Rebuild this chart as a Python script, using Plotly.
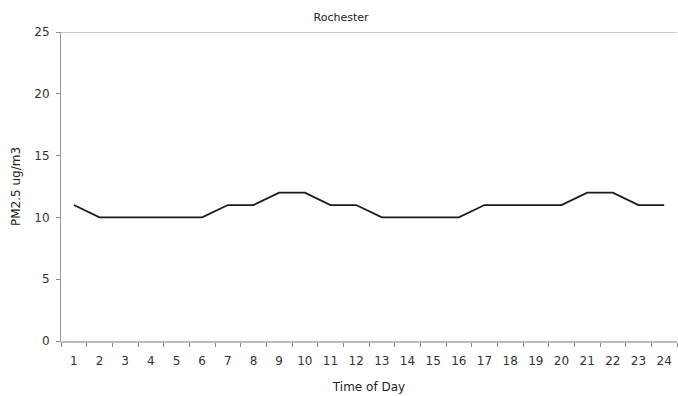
import plotly.graph_objects as go

hours = [str(h) for h in range(1, 25)]
pm25 = [11, 10, 10, 10, 10, 10, 11, 11, 12, 12, 11, 11,
        10, 10, 10, 10, 11, 11, 11, 11, 12, 12, 11, 11]
y_ticks = [0, 5, 10, 15, 20, 25]

fig = go.Figure()
fig.add_trace(go.Scatter(x=hours, y=pm25, mode="lines",
                         line=dict(color="#1a1a1a", width=1.8),
                         showlegend=False, hoverinfo="x+y"))

fig.add_shape(type="line", xref="paper", yref="y", x0=0, x1=1, y0=25, y1=25,
              line=dict(color="#c8c8c8", width=2))

font_family = "DejaVu Sans, Verdana, sans-serif"
fig.update_layout(
    width=678, height=396,
    margin=dict(l=61, r=1, t=32, b=55, autoexpand=False),
    paper_bgcolor="white", plot_bgcolor="white",
    font=dict(family=font_family, size=12, color="#222"),
    title=dict(text="Rochester", x=0.503, xanchor="center", y=0.957, yanchor="middle",
               font=dict(size=11, color="#222")),
    xaxis=dict(type="category", range=[-0.5, 23.5], tickson="boundaries",
               ticks="outside", ticklen=4, automargin=False, ticklabelstandoff=8,
               tickcolor="#888", showline=True, linecolor="#bbb", linewidth=2,
               showgrid=False, zeroline=False,
               title=dict(text="Time of Day", font=dict(size=12), standoff=15),
               tickfont=dict(size=12, color="#333")),
    yaxis=dict(range=[0, 25], tickvals=y_ticks, ticks="outside", ticklen=4,
               automargin=False, ticklabelstandoff=4,
               tickcolor="#888", showline=True, linecolor="#999", linewidth=1,
               showgrid=False, zeroline=False,
               title=dict(text="PM2.5 ug/m3", font=dict(size=12), standoff=11),
               tickfont=dict(size=12, color="#333")),
)

fig.write_html("out.html", config={"displayModeBar": False},
               post_script="document.body.style.margin='0';document.body.style.overflow='hidden';")
